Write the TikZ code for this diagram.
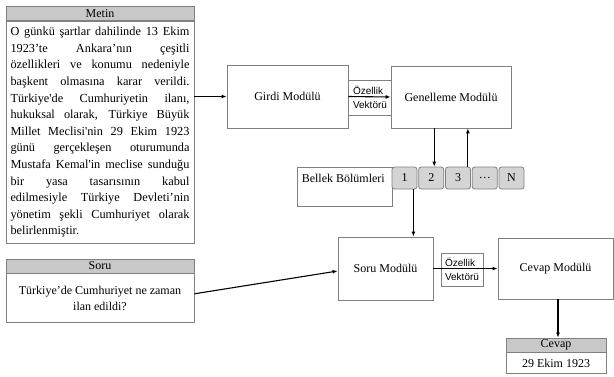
\documentclass[tikz,border=0pt]{standalone}
\usepackage{fontspec}
\setmainfont{Liberation Serif}[Ligatures=TeXOff]
\newfontfamily\vecfont{Liberation Sans}
\usetikzlibrary{arrows.meta,positioning,calc}
\definecolor{frame}{HTML}{808080}
\definecolor{headfill}{HTML}{C8C8C8}
\definecolor{slotfill}{HTML}{D4D4D4}
\hyphenpenalty=10000
\tolerance=10000
\tikzset{
  >={Latex[length=5pt,width=4pt]},
  every node/.style={font=\fontsize{12}{14}\selectfont},
  module/.style={draw=frame, line width=0.8pt, fill=white, align=center, inner sep=0pt},
  header/.style={draw=frame, fill=headfill, line width=0.8pt, minimum height=14pt, inner sep=0pt},
  textbox/.style={draw=frame, line width=0.8pt, inner sep=0pt},
  featbox/.style={draw=frame, line width=0.8pt, align=left, inner sep=0pt,
    font=\vecfont\fontsize{10}{14}\selectfont},
  slot/.style={draw=frame, fill=slotfill, line width=0.8pt, rounded corners=2.5pt,
    minimum width=25pt, minimum height=22pt, inner sep=0pt},
  arrow/.style={->, line width=1.1pt, draw=black}
}

\begin{document}
\begin{tikzpicture}[x=1pt,y=-1pt]
  \useasboundingbox (0,0) rectangle (614,376);

  % Metin
  \node[header, minimum width=188pt] (metinhead) at (100,13.5) {Metin};
  \node[textbox, minimum width=188pt, minimum height=222pt, below=0pt of metinhead,
        text width=179pt, align=justify, font=\fontsize{12.3}{16.6}\selectfont] (metinbody)
    {O günkü şartlar dahilinde 13 Ekim\linebreak
     1923’te Ankara’nın çeşitli\linebreak
     özellikleri ve konumu nedeniyle\linebreak
     başkent olmasına karar verildi.\linebreak
     Türkiye'de Cumhuriyetin ilanı,\linebreak
     hukuksal olarak, Türkiye Büyük\linebreak
     Millet Meclisi'nin 29 Ekim 1923\linebreak
     günü gerçekleşen oturumunda\linebreak
     Mustafa Kemal'in meclise sunduğu\linebreak
     bir yasa tasarısının kabul\linebreak
     edilmesiyle Türkiye Devleti’nin\linebreak
     yönetim şekli Cumhuriyet olarak\linebreak
     belirlenmiştir.};

  % Soru
  \node[header, minimum width=188pt] (soruhead) at (100,266) {Soru};
  \node[textbox, minimum width=188pt, minimum height=49pt, below=0pt of soruhead,
        align=center, font=\fontsize{12}{16}\selectfont] (sorubody)
    {Türkiye’de Cumhuriyet ne zaman\\ilan edildi?};

  % modules
  \node[module, minimum width=121pt, minimum height=63pt] (girdi) at (287.5,96.5) {Girdi Modülü};
  \node[featbox, minimum width=44pt, minimum height=35pt] (vec1) at (370,97.5) {Özellik\\Vektörü};
  \node[module, minimum width=120pt, minimum height=62pt] (genel) at (451,97) {Genelleme Modülü};

  % memory
  \node[module, minimum width=95pt, minimum height=39pt] (bellek) at (344.5,186.5) {};
  \foreach \lab [count=\i] in {1,2,3,{\ldots},N}
    \node[slot] (m\i) at ({404.5+26.75*(\i-1)},178) {\lab};
  \node[anchor=west, inner sep=0pt] (bellektxt) at ([xshift=5pt]bellek.west |- m1.center) {Bellek Bölümleri};

  \node[module, minimum width=95pt, minimum height=63pt] (sorumod) at (385.5,268.5) {Soru Modülü};
  \node[featbox, minimum width=42pt, minimum height=33pt] (vec2) at (462,269.5) {Özellik\\Vektörü};
  \node[module, minimum width=115pt, minimum height=61pt] (cevapmod) at (555.5,268.5) {Cevap Modülü};

  % Cevap
  \node[header, minimum width=100pt] (cevaphead) at (556,345) {Cevap};
  \node[textbox, minimum width=100pt, minimum height=21pt, below=0pt of cevaphead] (cevapbody) {29 Ekim 1923};

  % connectors
  \draw[arrow] (girdi.west -| metinbody.east) -- (girdi.west);
  \draw[arrow] (girdi.east) -- (genel.west);
  \draw[arrow] ([xshift=3pt]m2.north |- genel.south) -- ([xshift=3pt]m2.north);
  \draw[arrow] ([xshift=-3pt]m3.north east) -- ([xshift=-3pt]m3.north east |- genel.south);
  \draw[arrow] ([xshift=-4pt]m1.south east) -- ([xshift=-4pt]m1.south east |- sorumod.north);
  \draw[arrow] ([yshift=4.5pt]sorubody.east) -- ([yshift=-2.5pt]sorumod.west);
  \draw[arrow] (sorumod.east) -- (cevapmod.west);
  \draw[arrow] ([xshift=2.5pt]cevapmod.south) -- ([xshift=2.5pt]cevapmod.south |- cevaphead.north);
\end{tikzpicture}
\end{document}
